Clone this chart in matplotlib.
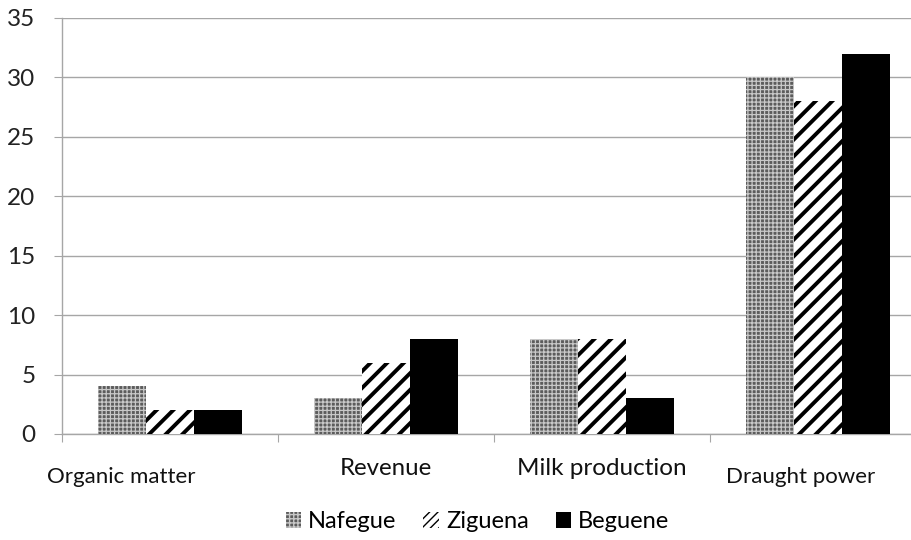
import matplotlib.pyplot as plt
from matplotlib.patches import Patch
import numpy as np

# data
categories = ["Organic matter", "Revenue", "Milk production", "Draught power"]
nafegue = [4, 3, 8, 30]
ziguena = [2, 6, 8, 28]
beguene = [2, 8, 3, 32]
yticks = [0, 5, 10, 15, 20, 25, 30, 35]

plt.rcParams['font.family'] = ['Lato', 'DejaVu Sans']

fig = plt.figure(figsize=(9.12, 5.4), dpi=100)
ax = fig.add_axes([62/912, 1-434/540, 864/912, 416/540])

x = np.arange(len(categories)) + 0.5
w = 48/216

with plt.rc_context({'hatch.linewidth': 0.9}):
    b1 = ax.bar(x - w, nafegue, w, color='#5c5c5c', edgecolor='#c8c8c8',
                hatch='++++', linewidth=0, label='Nafegue', zorder=3)
with plt.rc_context({'hatch.linewidth': 2.8}):
    b2 = ax.bar(x, ziguena, w, color='white', edgecolor='black',
                hatch='//', linewidth=0, label='Ziguena', zorder=3)
b3 = ax.bar(x + w, beguene, w, color='black', edgecolor='black',
            linewidth=0, label='Beguene', zorder=3)

# legend swatch for the striped series needs denser hatching to show two stripes
with plt.rc_context({'hatch.linewidth': 2.2}):
    h2 = Patch(facecolor='white', edgecolor='black', hatch='////',
               linewidth=0, label='Ziguena')

ax.set_xlim(0, len(categories))
ax.set_ylim(0, 35)
ax.set_yticks(yticks)
ax.yaxis.grid(True, color='#a6a6a6', linewidth=1.0, zorder=0)
ax.set_axisbelow(True)

for s in ['top', 'right']:
    ax.spines[s].set_visible(False)
for s in ['left', 'bottom']:
    ax.spines[s].set_color('#a6a6a6')
    ax.spines[s].set_linewidth(1.0)

ax.set_xticks(np.arange(len(categories) + 1))
ax.set_xticklabels([])
ax.tick_params(axis='x', length=6, color='#a6a6a6', direction='out')
ax.tick_params(axis='y', length=6, color='#a6a6a6', direction='out',
               labelsize=17.5, pad=13, labelcolor='#222222')

# category labels are staggered in the original
label_x = [0.275, 1.5, 2.498, 3.42]
label_y = [-0.104, -0.084, -0.084, -0.104]
label_size = [16, 17.3, 17.5, 16]
for lx, ly, fs, name in zip(label_x, label_y, label_size, categories):
    ax.text(lx, ly, name, transform=ax.get_xaxis_transform(),
            ha='center', va='center', fontsize=fs, color='#111111')

fig.legend(handles=[b1, h2, b3], loc='center', ncol=3,
           bbox_to_anchor=(477.5/912, 1-522/540), frameon=False,
           fontsize=17, handlelength=0.65, handleheight=0.65,
           handletextpad=0.3, columnspacing=1.15)

fig.savefig("out.png", dpi=100)
